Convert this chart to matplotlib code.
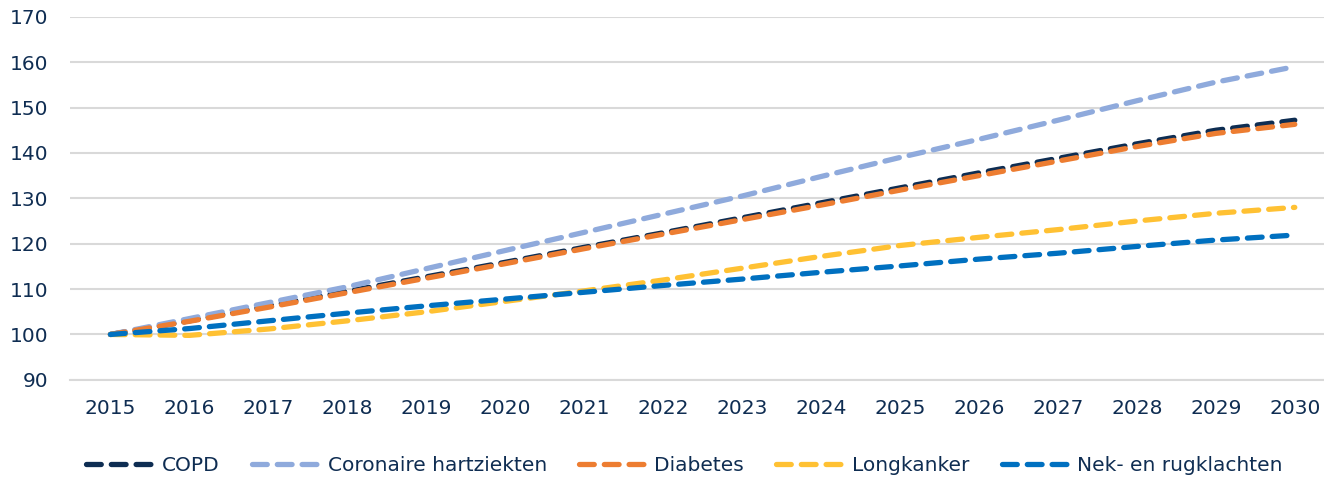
import matplotlib.pyplot as plt

years = list(range(2015, 2031))
copd = [100, 103, 106.3, 109.5, 112.7, 115.9, 119.2, 122.4, 125.7, 129, 132.3, 135.6, 138.8, 142, 145, 147.2]
coronair = [100, 103.5, 107, 110.5, 114.5, 118.5, 122.5, 126.5, 130.5, 134.8, 139, 143, 147.2, 151.5, 155.6, 159]
diabetes = [100, 102.9, 106, 109.2, 112.4, 115.6, 118.9, 122.1, 125.3, 128.5, 131.8, 135, 138.2, 141.4, 144.3, 146.3]
longkanker = [100, 99.8, 101.2, 103, 105, 107.3, 109.6, 112, 114.6, 117.2, 119.6, 121.4, 123.1, 125, 126.7, 128]
nek = [100, 101.3, 103, 104.7, 106.3, 107.8, 109.3, 110.8, 112.2, 113.7, 115.1, 116.6, 117.9, 119.4, 120.8, 121.9]

series = [
    ("COPD", copd, "#0E2D52"),
    ("Coronaire hartziekten", coronair, "#8FAADC"),
    ("Diabetes", diabetes, "#ED7D31"),
    ("Longkanker", longkanker, "#FFC133"),
    ("Nek- en rugklachten", nek, "#0070C0"),
]

txt = "#0F2D52"
plt.rcParams['font.family'] = ['DejaVu Sans']

fig = plt.figure(figsize=(13.24, 4.79), dpi=100)
ax = fig.add_axes([0.053, 0.207, 0.947, 0.758])

for label, vals, col in series:
    ax.plot(years, vals, color=col, linewidth=3.8, linestyle=(0, (2.8, 1.9)),
            dash_capstyle="round", label=label)

ax.set_ylim(90, 170)
ax.set_yticks(range(90, 171, 10))
ax.set_xlim(2014.49, 2030.37)
ax.set_xticks(years)
ax.grid(axis="y", color="#D9D9D9", linewidth=1.5)
ax.set_axisbelow(True)
for s in ax.spines.values():
    s.set_visible(False)
ax.spines["bottom"].set_visible(True)
ax.spines["bottom"].set_color("#D9D9D9")
ax.spines["bottom"].set_linewidth(1.5)
ax.tick_params(length=0, labelsize=14.5, colors=txt)
ax.tick_params(axis="x", pad=14)
ax.tick_params(axis="y", pad=16)

ax.legend(loc="center", bbox_to_anchor=(0.49, -0.237), ncol=5, frameon=False,
          fontsize=14.5, labelcolor=txt, handlelength=3.3, columnspacing=1.6, handletextpad=0.45)

fig.savefig("out.png")
